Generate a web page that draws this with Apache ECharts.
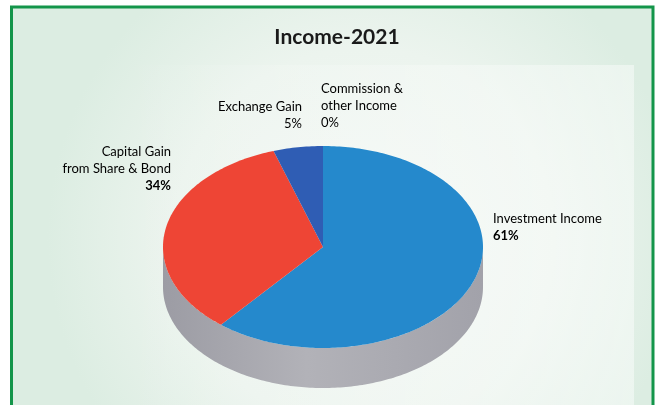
<!DOCTYPE html>
<html>
<head>
<meta charset="utf-8">
<title>Income-2021</title>
<script src="https://cdn.jsdelivr.net/npm/echarts@6/dist/echarts.min.js"></script>
<style>
  html, body { margin: 0; padding: 0; background: #ffffff; }
  #chart { width: 656px; height: 405px; }
</style>
</head>
<body>
<div id="chart"></div>
<script>
// Income sources for 2021, in percent of total income
const categories = ['Investment Income', 'Capital Gain from Share & Bond', 'Exchange Gain', 'Commission & other Income'];
const values = [61, 34, 5, 0];
// How each category name is broken over lines in its label
const labelLines = [
  ['Investment Income'],
  ['Capital Gain', 'from Share & Bond'],
  ['Exchange Gain'],
  ['Commission &', 'other Income']
];

// Pie frame (pixels): centre and radii of the top face, and wall depth
const CX = 323, CY = 247, RX = 160, RY = 101, DEPTH = 40;
const topColors = ['#2589cc', '#ee4535', '#2f5db4', '#8a8a8a'];
// Label anchors and looks, one per category
const labelStyle = [
  { x: 493, y: 210, align: 'left',  color: '#34466a', boldPct: true },
  { x: 171, y: 143, align: 'right', color: '#3a3a3a', boldPct: true },
  { x: 302, y: 98,  align: 'right', color: '#3a3a3a', boldPct: false },
  { x: 321, y: 80,  align: 'left',  color: '#5a5a5a', boldPct: false }
];

const total = values.reduce((a, b) => a + b, 0);
const startAngles = values.map((v, i) => values.slice(0, i).reduce((a, b) => a + b, 0) / total * 360);

// Angle measured clockwise from 12 o'clock, projected on the tilted ellipse
function pt(deg, dy) {
  const r = deg * Math.PI / 180;
  return [CX + RX * Math.sin(r), CY - RY * Math.cos(r) + (dy || 0)];
}
function arc(a0, a1, dy) {
  const pts = [];
  const n = Math.max(1, Math.ceil(Math.abs(a1 - a0)));
  for (let k = 0; k <= n; k++) pts.push(pt(a0 + (a1 - a0) * k / n, dy));
  return pts;
}
function sliceAngles(i, v) {
  const a0 = startAngles[i];
  return [a0, a0 + v / total * 360];
}

const chart = echarts.init(document.getElementById('chart'), null, { renderer: 'canvas' });

const sideGradient = new echarts.graphic.LinearGradient(CX - RX, 0, CX + RX, 0, [
  { offset: 0, color: '#9c9ca4' },
  { offset: 0.45, color: '#b2b2b8' },
  { offset: 1, color: '#a2a2aa' }
], true);

const seriesData = values.map((v, i) => ({ name: categories[i], value: v }));

chart.setOption({
  animation: false,
  graphic: [
    {
      type: 'rect', z: -10, silent: true,
      shape: { x: 11.5, y: 7, width: 641.5, height: 420 },
      style: {
        fill: new echarts.graphic.RadialGradient(0.55, 0.55, 0.75, [
          { offset: 0, color: '#f4f8f5' },
          { offset: 0.6, color: '#ecf4ee' },
          { offset: 1, color: '#dcede2' }
        ]),
        stroke: '#13954a', lineWidth: 3
      }
    },
    {
      type: 'rect', z: -9, silent: true,
      shape: { x: 120, y: 65, width: 514, height: 360 },
      style: {
        fill: new echarts.graphic.LinearGradient(0, 0, 1, 0, [
          { offset: 0, color: 'rgba(255,255,255,0)' },
          { offset: 1, color: 'rgba(255,255,255,0.45)' }
        ])
      }
    }
  ],
  title: {
    text: 'Income-2021',
    left: 332, top: 22, textAlign: 'center',
    textStyle: { fontFamily: 'Lato', fontWeight: 'bold', fontSize: 21, color: '#1a1a1a' }
  },
  series: [
    {
      // outer wall, visible on the front half only
      type: 'custom', name: 'wall', coordinateSystem: 'none', z: 1,
      data: seriesData,
      renderItem: function (params, api) {
        const i = params.dataIndex;
        const [a0, a1] = sliceAngles(i, api.value(0));
        const s = Math.max(a0, 90), e = Math.min(a1, 270);
        if (e <= s) return { type: 'group', children: [] };
        const pts = arc(s, e, 0).concat(arc(e, s, DEPTH));
        return { type: 'polygon', shape: { points: pts }, style: { fill: sideGradient } };
      }
    },
    {
      // top face slices with their labels
      type: 'custom', name: 'Income-2021', coordinateSystem: 'none', z: 2,
      data: seriesData,
      renderItem: function (params, api) {
        const i = params.dataIndex;
        const v = api.value(0);
        const [a0, a1] = sliceAngles(i, v);
        const children = [];
        if (a1 > a0) {
          children.push({
            type: 'polygon',
            shape: { points: [[CX, CY]].concat(arc(a0, a1, 0)) },
            style: { fill: topColors[i] }
          });
        }
        const ls = labelStyle[i];
        const pct = Math.round(v / total * 100) + '%';
        const text = labelLines[i].map(l => '{n|' + l + '}').join('\n') + '\n{p|' + pct + '}';
        children.push({
          type: 'text',
          style: {
            x: ls.x, y: ls.y, text: text, align: ls.align, verticalAlign: 'top',
            rich: {
              n: { fontFamily: 'Lato', fontSize: 13, lineHeight: 17, color: ls.color },
              p: { fontFamily: 'Lato', fontSize: 13, lineHeight: 17, color: ls.color, fontWeight: ls.boldPct ? 'bold' : 'normal' }
            }
          }
        });
        return { type: 'group', children: children };
      }
    }
  ]
});
</script>
</body>
</html>
